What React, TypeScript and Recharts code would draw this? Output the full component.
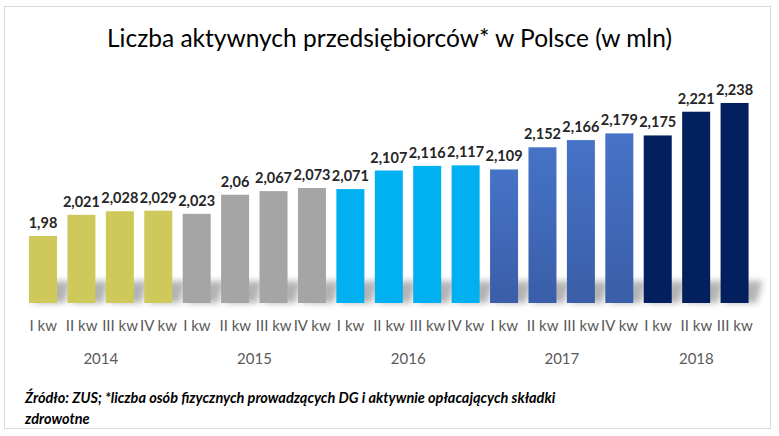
import React from 'react';
import { BarChart, Bar, XAxis, YAxis, Cell, LabelList } from 'recharts';

const quarters = ['I kw', 'II kw', 'III kw', 'IV kw', 'I kw', 'II kw', 'III kw', 'IV kw', 'I kw', 'II kw', 'III kw', 'IV kw', 'I kw', 'II kw', 'III kw', 'IV kw', 'I kw', 'II kw', 'III kw'];
const years = ['2014', '2014', '2014', '2014', '2015', '2015', '2015', '2015', '2016', '2016', '2016', '2016', '2017', '2017', '2017', '2017', '2018', '2018', '2018'];
const values = [1.98, 2.021, 2.028, 2.029, 2.023, 2.06, 2.067, 2.073, 2.071, 2.107, 2.116, 2.117, 2.109, 2.152, 2.166, 2.179, 2.175, 2.221, 2.238];
const valueLabels = ['1,98', '2,021', '2,028', '2,029', '2,023', '2,06', '2,067', '2,073', '2,071', '2,107', '2,116', '2,117', '2,109', '2,152', '2,166', '2,179', '2,175', '2,221', '2,238'];
const yearColors: Record<string, string> = {
  '2014': '#CFC85A',
  '2015': '#A5A5A5',
  '2016': '#00B0F0',
  '2017': 'url(#blueGrad)',
  '2018': '#03205E',
};

const data = quarters.map((q, i) => ({ q, year: years[i], value: values[i], label: valueLabels[i], idx: i }));

const FONT = 'Lato, "Open Sans", sans-serif';

const ShadowBar = (props: any) => {
  const { x, y, width, height, fill } = props;
  const bottom = y + height;
  const sh = 22;
  const path = `M${x + 2},${bottom} L${x + width - 2},${bottom - sh} L${x + width + 14},${bottom - sh} L${x + width + 8},${bottom} Z`;
  return (
    <g>
      <path d={path} fill="#8a8a8a" opacity={0.65} filter="url(#blurShadow)" />
      <rect x={x} y={y} width={width} height={height} fill={fill} />
    </g>
  );
};

const Tick = (props: any) => {
  const { x, payload } = props;
  const i = payload.index;
  const band = 38.4;
  let yearEl = null;
  const yr = years[i];
  const groupIdx = years.map((v, k) => (v === yr ? k : -1)).filter((k) => k >= 0);
  const first = groupIdx[0];
  const last = groupIdx[groupIdx.length - 1];
  const mid = (first + last) / 2;
  if (i === Math.floor(mid)) {
    const off = (mid - i) * band;
    yearEl = (
      <text x={x + off} y={358} textAnchor="middle" dominantBaseline="central" fontSize={15} fill="#595959" fontFamily={FONT}>
        {yr}
      </text>
    );
  }
  return (
    <g>
      <text x={x} y={325} textAnchor="middle" dominantBaseline="central" fontSize={15} fill="#595959" fontFamily={FONT}>
        {quarters[i]}
      </text>
      {yearEl}
    </g>
  );
};

export default function App() {
  return (
    <div style={{ position: 'absolute', left: 0, top: 0, width: 779, height: 436, background: '#fff' }}>
      <div style={{ position: 'absolute', left: 4, top: 6, width: 765, height: 421, border: '1px solid #D9D9D9' }} />
      <div style={{ position: 'absolute', left: 0, top: 23, width: 779, textAlign: 'center', fontFamily: FONT, fontSize: 24.5, color: '#000' }}>
        Liczba aktywnych przedsiębiorców* w Polsce (w mln)
      </div>
      <div style={{ position: 'absolute', left: 0, top: 0 }}>
        <BarChart width={779} height={436} data={data} margin={{ top: 71, right: 25, left: 24, bottom: 0 }}>
          <defs>
            <linearGradient id="blueGrad" x1="0" y1="0" x2="0" y2="1">
              <stop offset="0%" stopColor="#4673C7" />
              <stop offset="100%" stopColor="#3A5EA8" />
            </linearGradient>
            <filter id="blurShadow" x="-50%" y="-50%" width="200%" height="200%">
              <feGaussianBlur stdDeviation="3" />
            </filter>
          </defs>
          <XAxis dataKey="idx" axisLine={false} tickLine={false} height={133} tick={<Tick />} interval={0} />
          <YAxis hide domain={[1.85, 2.3]} />
          <Bar dataKey="value" barSize={28} isAnimationActive={false} shape={<ShadowBar />}>
            {data.map((d, i) => (
              <Cell key={i} fill={yearColors[d.year]} />
            ))}
            <LabelList dataKey="label" position="top" offset={8} fill="#262626" fontSize={14.5} fontWeight="bold" fontFamily={FONT} />
          </Bar>
        </BarChart>
      </div>
      <div style={{ position: 'absolute', left: 25, top: 387, width: 545, fontFamily: FONT, fontSize: 14.5, fontWeight: 'bold', fontStyle: 'italic', color: '#000', lineHeight: '21px' }}>
        Źródło: ZUS; *liczba osób fizycznych prowadzących DG i aktywnie opłacających składki zdrowotne
      </div>
    </div>
  );
}
